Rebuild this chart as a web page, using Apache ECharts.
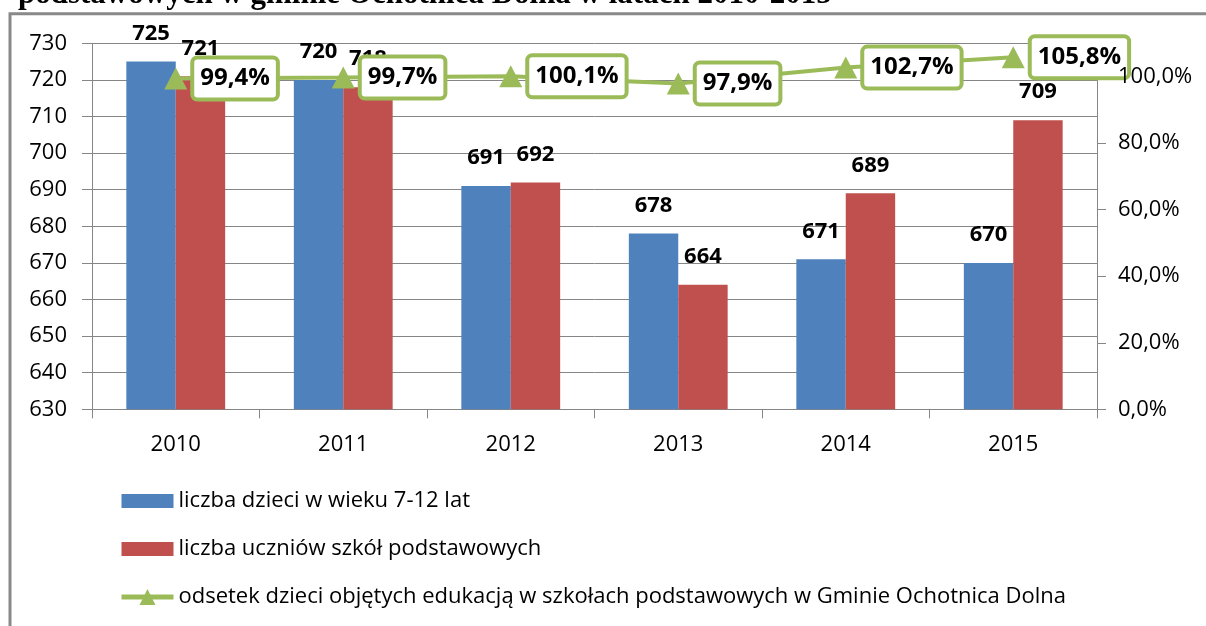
<!DOCTYPE html>
<html>
<head>
<meta charset="utf-8">
<script src="https://cdn.jsdelivr.net/npm/echarts@6/dist/echarts.min.js"></script>
<style>
html,body{margin:0;padding:0;background:#fff;}
#chart{width:1206px;height:626px;}
</style>
</head>
<body>
<div id="chart"></div>
<script>
const titleText = 'podstawowych w gminie Ochotnica Dolna w latach 2010-2015';
const categories = ['2010', '2011', '2012', '2013', '2014', '2015'];
const children = [725, 720, 691, 678, 671, 670];
const pupils = [721, 718, 692, 664, 689, 709];
const ratio = [99.4, 99.7, 100.1, 97.9, 102.7, 105.8];
const rightTicks = [0, 20, 40, 60, 80, 100];
const seriesNames = [
  'liczba dzieci w wieku 7-12 lat',
  'liczba uczniów szkół podstawowych',
  'odsetek dzieci objętych edukacją w szkołach podstawowych w Gminie Ochotnica Dolna'
];

const gray = '#868686';
const font = 'Open Sans';
const pct = v => v.toFixed(1).replace('.', ',') + '%';
const rectIcon = 'path://M0 0H52V14H0Z';

const chart = echarts.init(document.getElementById('chart'));
chart.setOption({
  animation: false,
  backgroundColor: '#fff',
  textStyle: { fontFamily: font },
  graphic: [
    { type: 'rect', z: 100, shape: { x: 10, y: 13.8, width: 1400, height: 800 },
      style: { fill: 'none', stroke: '#898989', lineWidth: 3 } },
    { type: 'text', x: 18, y: -5, z: 100,
      style: { text: titleText, fontSize: 31, fontWeight: 'bold', fontFamily: 'Liberation Serif',
               fill: '#000', verticalAlign: 'middle' } }
  ],
  grid: { left: 92, right: 109, top: 43.3, bottom: 216.7, containLabel: false },
  legend: {
    orient: 'vertical', left: 119, top: 490, padding: 0,
    itemWidth: 52, itemHeight: 20, itemGap: 26, symbolKeepAspect: true,
    textStyle: { fontFamily: font, fontSize: 22, lineHeight: 22, color: '#000' },
    data: [
      { name: seriesNames[0], icon: rectIcon },
      { name: seriesNames[1], icon: rectIcon },
      { name: seriesNames[2], lineStyle: { width: 5 } }
    ]
  },
  xAxis: {
    type: 'category', data: categories,
    axisLine: { lineStyle: { color: gray, width: 1 } },
    axisTick: { show: true, length: 9, lineStyle: { color: gray } },
    axisLabel: { margin: 24, fontSize: 22, color: '#000', fontFamily: font }
  },
  yAxis: [
    {
      type: 'value', min: 630, max: 730, interval: 10,
      axisLine: { show: true, lineStyle: { color: gray } },
      axisTick: { show: true, length: 10, lineStyle: { color: gray } },
      axisLabel: { margin: 25, fontSize: 22, color: '#000', fontFamily: font },
      splitLine: { show: true, lineStyle: { color: gray, width: 1 } }
    },
    {
      type: 'value', min: 0, max: 110, interval: 20, position: 'right',
      axisLine: { show: true, lineStyle: { color: gray } },
      axisTick: { show: true, length: 9, lineStyle: { color: gray }, customValues: rightTicks },
      axisLabel: { show: false },
      splitLine: { show: false }
    },
    {
      type: 'value', min: 0, max: 110, interval: 20, position: 'right', z: 10,
      axisLine: { show: false },
      axisTick: { show: false },
      axisLabel: { margin: 21, fontSize: 22, color: '#000', fontFamily: font,
                   customValues: rightTicks, formatter: v => pct(v) },
      splitLine: { show: false }
    }
  ],
  series: [
    {
      name: seriesNames[0], type: 'bar', data: children,
      barGap: '0%', barCategoryGap: '41%',
      itemStyle: { color: '#4F81BD' },
      label: { show: true, position: 'top', distance: 17, fontSize: 22, fontWeight: 'bold',
               color: '#000', fontFamily: font }
    },
    {
      name: seriesNames[1], type: 'bar', data: pupils,
      itemStyle: { color: '#C0504D' },
      label: { show: true, position: 'top', distance: 17, fontSize: 22, fontWeight: 'bold',
               color: '#000', fontFamily: font }
    },
    {
      name: seriesNames[2], type: 'line', yAxisIndex: 1, data: ratio, z: 5,
      symbol: 'triangle', symbolSize: [23, 22],
      itemStyle: { color: '#9BBB59' },
      lineStyle: { color: '#9BBB59', width: 4 },
      label: {
        show: true, position: 'right', distance: 7,
        formatter: p => pct(p.value),
        fontSize: 24, fontWeight: 'bold', color: '#000', fontFamily: font, lineHeight: 24,
        backgroundColor: '#fff', borderColor: '#9BBB59', borderWidth: 4, borderRadius: 3,
        padding: [7, 6]
      }
    }
  ]
});
</script>
</body>
</html>
